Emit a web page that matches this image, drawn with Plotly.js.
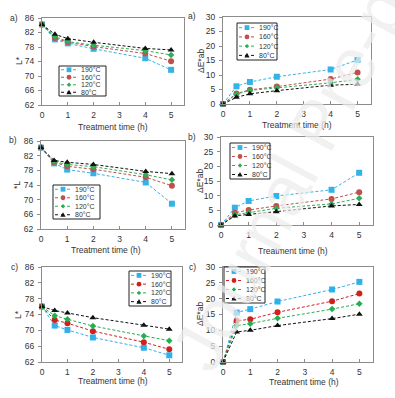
<!DOCTYPE html>
<html><head><meta charset="utf-8">
<script src="https://cdn.plot.ly/plotly-3.0.1.min.js"></script>
<style>html,body{margin:0;padding:0;background:#fff;overflow:hidden}</style>
</head><body><div id="chart" style="width:395px;height:398px"></div>
<script>
// ---------- data ----------
const time = [0, 0.5, 1, 2, 4, 5];
const seriesNames = ['190°C', '160°C', '120°C', '80°C'];
const xTicks = [0, 1, 2, 3, 4, 5];
const lTicks = [62, 66, 70, 74, 78, 82, 86];
const eTicks = [0, 5, 10, 15, 20, 25, 30];
const panelLabels = ['a)', 'a)', 'b)', 'b)', 'c)', 'c)'];
const xTitle = 'Treatment time (h)';
const yTitles = ['L*', 'ΔE*ab', '*L', 'ΔE*ab', 'L*', 'ΔE*ab'];
const watermark = 'Journal Pre-proof';

// a) L*
const lA190 = [84.2, 80.1, 79.0, 77.5, 74.9, 71.7];
const lA160 = [84.2, 80.5, 79.3, 78.1, 76.2, 74.1];
const lA120 = [84.2, 80.9, 79.5, 78.5, 77.0, 75.8];
const lA80  = [84.2, 81.5, 80.3, 79.3, 77.6, 77.2];
// a) dE*ab
const eA190 = [0, 6.1, 7.6, 9.4, 11.9, 15.2];
const eA160 = [0, 3.6, 4.9, 6.0, 8.6, 10.9];
const eA120 = [0, 3.4, 4.7, 5.6, 7.3, 8.5];
const eA80  = [0, 2.3, 3.5, 4.6, 6.5, 6.8];
// b) L*
const lB190 = [84.2, 79.9, 78.2, 77.2, 74.7, 68.9];
const lB160 = [84.2, 80.2, 79.1, 78.3, 76.1, 73.8];
const lB120 = [84.2, 80.4, 79.6, 79.0, 76.8, 75.4];
const lB80  = [84.2, 80.7, 80.2, 79.6, 77.7, 77.1];
// b) dE*ab
const eB190 = [0, 5.9, 8.2, 9.9, 12.0, 17.8];
const eB160 = [0, 4.2, 5.1, 6.5, 8.9, 11.2];
const eB120 = [0, 3.5, 4.2, 5.7, 7.2, 9.1];
const eB80  = [0, 3.1, 3.6, 4.5, 6.5, 7.0];
// c) L*
const lC190 = [76.0, 71.2, 70.1, 68.2, 65.6, 63.7];
const lC160 = [76.0, 72.6, 71.8, 69.8, 67.0, 65.2];
const lC120 = [76.0, 73.7, 72.8, 71.1, 68.6, 67.4];
const lC80  = [76.0, 75.0, 74.4, 73.2, 71.3, 70.3];
// c) dE*ab
const eC190 = [0, 15.6, 16.7, 19.1, 22.9, 25.3];
const eC160 = [0, 13.0, 13.5, 15.7, 19.2, 21.6];
const eC120 = [0, 11.5, 12.1, 13.8, 16.7, 18.4];
const eC80  = [0, 9.5, 10.0, 11.5, 13.7, 15.1];

// ---------- styling / layout helpers ----------
const W = 395, H = 398;
const FONT = 'Arial, "Liberation Sans", sans-serif';
const symbols = ['square', 'circle', 'diamond', 'triangle-up'];
const colorsTop = ['#35b2e6', '#c0504d', '#2fae55', '#111111'];
const colorsBot = ['#2fb0ea', '#d0201c', '#20b050', '#111111'];

const panels = [
  {data: [lA190, lA160, lA120, lA80], frame: [42, 184, 18, 105], kind: 'L', colors: colorsTop,
   legend: [59, 66, 106, 96], xt: [113, 127], yt: [19, 61], lab: [20, 18]},
  {data: [eA190, eA160, eA120, eA80], frame: [223, 371, 17, 104], kind: 'E', colors: colorsTop,
   legend: [237, 23, 277, 60], xt: [297, 125], yt: [201, 61], lab: [198, 16]},
  {data: [lB190, lB160, lB120, lB80], frame: [41, 185, 141, 229], kind: 'L', colors: colorsTop,
   legend: [53, 185, 100, 219], xt: [106, 250], yt: [17, 185], lab: [19, 140]},
  {data: [eB190, eB160, eB120, eB80], frame: [221, 373, 137, 225], kind: 'E', colors: colorsTop,
   legend: [230, 143, 270, 179], xt: [293, 251], yt: [200, 181], lab: [198, 137]},
  {data: [lC190, lC160, lC120, lC80], frame: [42, 182, 267, 362], kind: 'L', colors: colorsBot,
   legend: [129, 271, 171, 306], xt: [113, 381], yt: [18, 315], lab: [20, 267]},
  {data: [eC190, eC160, eC120, eC80], frame: [223, 373, 267, 362], kind: 'E', colors: colorsBot,
   legend: [224, 267, 265, 303], xt: [304, 382], yt: [200, 314], lab: [198, 267]}
];

const fx = px => px / W;
const fy = py => 1 - py / H;

const traces = [];
const layout = {
  width: W, height: H,
  margin: {l: 0, r: 0, t: 0, b: 0},
  paper_bgcolor: '#fff', plot_bgcolor: '#fff',
  showlegend: false,
  font: {family: FONT, size: 8, color: '#333'},
  shapes: [], annotations: []
};

panels.forEach((p, i) => {
  const n = i + 1;
  const xa = 'x' + (n === 1 ? '' : n), ya = 'y' + (n === 1 ? '' : n);
  const [l, r, t, b] = p.frame;
  p.data.forEach((vals, s) => {
    traces.push({
      type: 'scatter', mode: 'lines+markers',
      x: time, y: vals, name: seriesNames[s],
      xaxis: xa, yaxis: ya,
      line: {color: p.colors[s], width: 1, dash: '3px,2px'},
      marker: {symbol: symbols[s], size: s === 2 ? 5 : 6, color: p.colors[s]},
      cliponaxis: false
    });
  });
  const axBase = {
    showline: true, mirror: true, linecolor: '#8c8c8c', linewidth: 1,
    showgrid: false, zeroline: false, fixedrange: true,
    tickfont: {size: 8.5, color: '#333', family: FONT},
    tickcolor: '#8c8c8c', ticklen: 3, tickwidth: 1
  };
  layout['xaxis' + (n === 1 ? '' : n)] = Object.assign({}, axBase, {
    domain: [fx(l), fx(r)], anchor: ya, range: [0, 5.5],
    tickmode: 'array', tickvals: xTicks, ticks: 'inside', ticklabelstandoff: 2
  });
  layout['yaxis' + (n === 1 ? '' : n)] = Object.assign({}, axBase, {
    domain: [fy(b), fy(t)], anchor: xa,
    range: p.kind === 'L' ? [62, 86] : [0, 30],
    tickmode: 'array', tickvals: p.kind === 'L' ? lTicks : eTicks,
    ticks: 'outside', ticklabelstandoff: 2
  });

  // axis titles & panel labels
  layout.annotations.push({
    xref: 'paper', yref: 'paper', x: fx(p.xt[0]), y: fy(p.xt[1]),
    text: xTitle, showarrow: false, xanchor: 'center', yanchor: 'middle',
    font: {size: 8.5, color: '#333', family: FONT}
  });
  layout.annotations.push({
    xref: 'paper', yref: 'paper', x: fx(p.yt[0]), y: fy(p.yt[1]),
    text: yTitles[i], showarrow: false, textangle: -90, xanchor: 'center', yanchor: 'middle',
    font: {size: 8.5, color: '#333', family: FONT}
  });
  layout.annotations.push({
    xref: 'paper', yref: 'paper', x: fx(p.lab[0]), y: fy(p.lab[1]),
    text: panelLabels[i], showarrow: false, xanchor: 'right', yanchor: 'middle',
    font: {size: 8.5, color: '#333', family: FONT}
  });

  // legend (drawn box)
  const [bx0, by0, bx1, by1] = p.legend;
  layout.shapes.push({type: 'rect', xref: 'paper', yref: 'paper',
    x0: fx(bx0), x1: fx(bx1), y0: fy(by1), y1: fy(by0),
    line: {color: '#222', width: 1}, fillcolor: '#fff', layer: 'above'});
  const bh = by1 - by0;
  seriesNames.forEach((name, s) => {
    const cy = by0 + bh * (s + 0.5) / 4;
    const c = p.colors[s];
    const lx0 = bx0 + 2, lx1 = bx0 + 18, cx = (lx0 + lx1) / 2;
    layout.shapes.push({type: 'line', xref: 'paper', yref: 'paper',
      x0: fx(lx0), x1: fx(lx1), y0: fy(cy), y1: fy(cy),
      line: {color: c, width: 1, dash: 'dot'}, layer: 'above'});
    const m = 2.4;
    if (symbols[s] === 'square') {
      layout.shapes.push({type: 'rect', xref: 'paper', yref: 'paper',
        x0: fx(cx - m), x1: fx(cx + m), y0: fy(cy + m), y1: fy(cy - m),
        line: {width: 0}, fillcolor: c, layer: 'above'});
    } else if (symbols[s] === 'circle') {
      layout.shapes.push({type: 'circle', xref: 'paper', yref: 'paper',
        x0: fx(cx - m), x1: fx(cx + m), y0: fy(cy + m), y1: fy(cy - m),
        line: {width: 0}, fillcolor: c, layer: 'above'});
    } else if (symbols[s] === 'diamond') {
      const d = 2.2;
      layout.shapes.push({type: 'path', xref: 'paper', yref: 'paper',
        path: `M${fx(cx)},${fy(cy - d)} L${fx(cx + d)},${fy(cy)} L${fx(cx)},${fy(cy + d)} L${fx(cx - d)},${fy(cy)} Z`,
        line: {width: 0}, fillcolor: c, layer: 'above'});
    } else {
      layout.shapes.push({type: 'path', xref: 'paper', yref: 'paper',
        path: `M${fx(cx)},${fy(cy - 2.6)} L${fx(cx + 2.6)},${fy(cy + 2)} L${fx(cx - 2.6)},${fy(cy + 2)} Z`,
        line: {width: 0}, fillcolor: c, layer: 'above'});
    }
    layout.annotations.push({
      xref: 'paper', yref: 'paper', x: fx(bx0 + 20), y: fy(cy),
      text: name, showarrow: false, xanchor: 'left', yanchor: 'middle',
      font: {size: 7, color: '#333', family: FONT}
    });
  });
});

// watermark
layout.annotations.push({
  xref: 'paper', yref: 'paper', x: fx(318), y: fy(126),
  text: watermark, showarrow: false, textangle: -62,
  xanchor: 'center', yanchor: 'middle',
  font: {size: 70, color: 'rgba(236,236,236,0.72)', family: FONT}
});

Plotly.newPlot('chart', traces, layout, {displayModeBar: false, staticPlot: true});
</script>
</body></html>
